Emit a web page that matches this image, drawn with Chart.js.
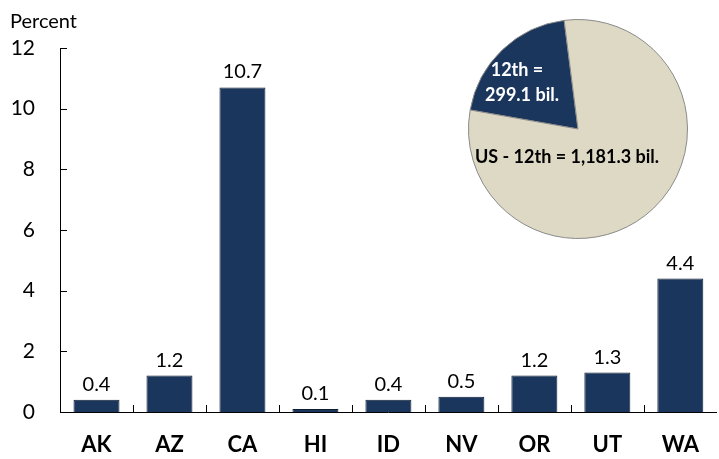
<!DOCTYPE html>
<html><head><meta charset="utf-8">
<script src="https://cdn.jsdelivr.net/npm/chart.js@4/dist/chart.umd.min.js"></script>
<style>
html,body{margin:0;padding:0;background:#fff;}
#wrap{position:relative;width:719px;height:459px;overflow:hidden;}
#bar{position:absolute;left:0;top:0;}
#pieBox{position:absolute;left:467px;top:18px;width:222px;height:222px;}
</style></head><body>
<div id="wrap">
<canvas id="bar" width="719" height="459"></canvas>
<div id="pieBox"><canvas id="pie" width="222" height="222"></canvas></div>
</div>
<script>
const categories = ['AK','AZ','CA','HI','ID','NV','OR','UT','WA'];
const shares = [0.4, 1.2, 10.7, 0.1, 0.4, 0.5, 1.2, 1.3, 4.4];
const yTicks = [0, 2, 4, 6, 8, 10, 12];
const pieLabels = ['12th', 'US - 12th'];
const pieValues = [299.1, 1181.3];
const pieText = [['12th =', '299.1 bil.'], ['US - 12th = 1,181.3 bil.']];

const NAVY = '#1B365D';
const BEIGE = '#DDD9C4';
const FONT = 'Lato, "Open Sans", sans-serif';

const extras = {
  id: 'extras',
  afterDraw(chart) {
    const ctx = chart.ctx;
    const xs = chart.scales.x, ys = chart.scales.y;
    const area = chart.chartArea;
    ctx.save();
    ctx.strokeStyle = '#000';
    ctx.lineWidth = 1;
    // inward y ticks
    yTicks.forEach(v => {
      const y = Math.round(ys.getPixelForValue(v)) + 0.5;
      ctx.beginPath();
      ctx.moveTo(area.left, y);
      ctx.lineTo(area.left + 7, y);
      ctx.stroke();
    });
    // inward x ticks at category boundaries
    for (let i = 0; i < categories.length - 1; i++) {
      const x = Math.round((xs.getPixelForValue(i) + xs.getPixelForValue(i + 1)) / 2) + 0.5;
      ctx.beginPath();
      ctx.moveTo(x, area.bottom);
      ctx.lineTo(x, area.bottom - 7);
      ctx.stroke();
    }
    // value labels
    ctx.fillStyle = '#000';
    ctx.font = '20px ' + FONT;
    ctx.textAlign = 'center';
    ctx.textBaseline = 'alphabetic';
    chart.getDatasetMeta(0).data.forEach((bar, i) => {
      ctx.fillText(shares[i].toFixed(1), bar.x, bar.y - 9);
    });
    // axis unit label
    ctx.textAlign = 'left';
    ctx.font = '20px ' + FONT;
    ctx.fillText('Percent', 10, 28);
    ctx.restore();
  }
};

new Chart(document.getElementById('bar'), {
  type: 'bar',
  data: {
    labels: categories,
    datasets: [{
      data: shares,
      backgroundColor: NAVY,
      borderColor: '#0E1E33',
      borderWidth: 1,
      barPercentage: 0.63,
      categoryPercentage: 1
    }]
  },
  options: {
    responsive: false,
    animation: false,
    layout: { padding: { top: 48, right: 0, left: 0, bottom: 0 } },
    plugins: { legend: { display: false }, tooltip: { enabled: false } },
    scales: {
      x: {
        grid: { display: false, drawTicks: false },
        border: { display: true, color: '#000', width: 1 },
        ticks: { color: '#000', font: { family: FONT, size: 22, weight: 'bold' }, padding: 20 },
        afterFit(s) { s.height = 47; }
      },
      y: {
        min: 0, max: 12,
        afterBuildTicks(s) { s.ticks = yTicks.map(v => ({ value: v })); },
        grid: { display: false, drawTicks: false },
        border: { display: true, color: '#000', width: 1 },
        ticks: { color: '#000', font: { family: FONT, size: 21 }, padding: 25 },
        afterFit(s) { s.width = 60; }
      }
    }
  },
  plugins: [extras]
});

const pieTextPlugin = {
  id: 'pieText',
  afterDraw(chart) {
    const arc = chart.getDatasetMeta(0).data[0];
    const cx = arc.x, cy = arc.y;
    const ctx = chart.ctx;
    ctx.save();
    ctx.font = 'bold 18px ' + FONT;
    ctx.textAlign = 'center';
    ctx.textBaseline = 'middle';
    ctx.fillStyle = '#fff';
    ctx.fillText(pieText[0][0], cx - 61, cy - 59);
    ctx.fillText(pieText[0][1], cx - 56, cy - 34);
    ctx.fillStyle = '#000';
    ctx.fillText(pieText[1][0], cx - 11, cy + 28);
    ctx.restore();
  }
};

new Chart(document.getElementById('pie'), {
  type: 'pie',
  data: {
    labels: pieLabels,
    datasets: [{
      data: pieValues,
      backgroundColor: [NAVY, BEIGE],
      borderColor: '#8a8a8a',
      borderWidth: 1
    }]
  },
  options: {
    responsive: false,
    animation: false,
    rotation: -80,
    layout: { padding: 1 },
    plugins: { legend: { display: false }, tooltip: { enabled: false } }
  },
  plugins: [pieTextPlugin]
});
</script>
</body></html>
